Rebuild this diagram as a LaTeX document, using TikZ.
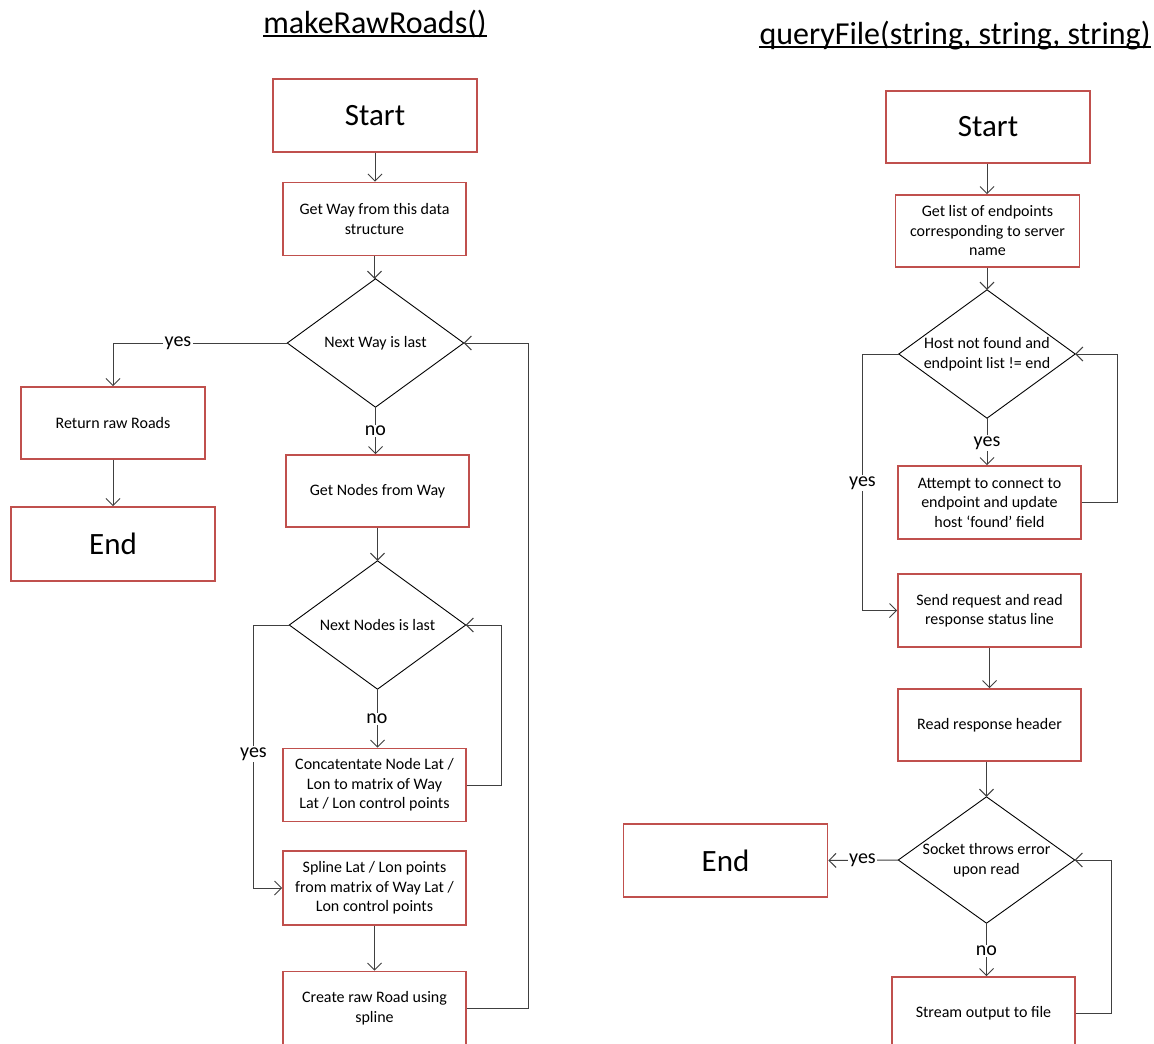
\documentclass[tikz,border=0pt]{standalone}
\usepackage{fontspec}
\setmainfont{Carlito}
\usetikzlibrary{arrows.meta}
\definecolor{boxred}{RGB}{192,80,77}
\definecolor{wire}{RGB}{64,64,64}
\begin{document}
\begin{tikzpicture}[x=1pt,y=-1pt,
  every node/.style={inner sep=0pt},
  stepbox/.style={draw=boxred, line width=1.6pt, fill=white, align=center,
    font=\fontsize{16}{19.5}\selectfont, minimum width=183pt, minimum height=73pt},
  termbox/.style={stepbox, minimum width=204pt, font=\fontsize{31}{36}\selectfont},
  decision/.style={minimum width=176pt, minimum height=128pt, align=center,
    font=\fontsize{16}{19.5}\selectfont},
  diamondline/.style={draw=black, line width=0.9pt},
  flow/.style={draw=wire, line width=1pt, -{Straight Barb[length=7pt,width=14pt]}},
  plain/.style={draw=wire, line width=1pt},
  answer/.style={fill=white, inner sep=1.5pt, font=\fontsize{20}{24}\selectfont},
  heading/.style={font=\fontsize{32}{38}\selectfont, anchor=base}
]
\clip (0,0) rectangle (1154,1044);
\fill[white] (0,0) rectangle (1154,1044);

% ---------- makeRawRoads() ----------
\node[heading] (t1) at (375,33) {makeRawRoads()};
\draw[line width=1.4pt] ([yshift=-3pt]t1.base west) -- ([yshift=-3pt]t1.base east);

\node[termbox] (s1) at (375,115.5) {Start};
\node[stepbox] (w1) at (374.5,219) {Get Way from this data\\structure};
\node[decision] (d1) at (375.5,343) {Next Way is last};
\node[stepbox, minimum width=184pt, minimum height=72pt] (r1) at (113,423) {Return raw Roads};
\node[termbox, minimum height=74pt] (e1) at (113,544) {End};
\node[stepbox, minimum height=72pt] (n1) at (377.5,491) {Get Nodes from Way};
\node[decision] (d2) at (377.5,625) {Next Nodes is last};
\node[stepbox] (c1) at (374.5,785) {Concatentate Node Lat /\\Lon to matrix of Way\\Lat / Lon control points};
\node[stepbox, minimum height=74pt] (sp) at (374.5,888) {Spline Lat / Lon points\\from matrix of Way Lat /\\Lon control points};
\node[stepbox] (cr) at (374.5,1008) {Create raw Road using\\spline};

\draw[diamondline] (d1.north) -- (d1.east) -- (d1.south) -- (d1.west) -- cycle;
\draw[diamondline] (d2.north) -- (d2.east) -- (d2.south) -- (d2.west) -- cycle;

\draw[flow] (s1.south) -- (s1.south |- w1.north);
\draw[flow] (w1.south) -- (w1.south |- d1.north);
\draw[flow] (d1.west) -| (r1.north);
\node[answer] (y1) at (178,343) {yes};
\draw[flow] (r1.south) -- (e1.north);
\draw[flow] (d1.south) -- (d1.south |- n1.north);
\node[answer] (no1) at (375.5,431) {no};
\draw[flow] (n1.south -| d2.north) -- (d2.north);
\draw[flow] (d2.south) -- (d2.south |- c1.north);
\node[answer] (no2) at (377,719) {no};
\draw[flow] (c1.east) -- ++(35,0) |- (d2.east);
\draw[flow] (d2.west) -- ++(-36,0) |- (sp.west);
\node[answer] (y2) at (253.5,754) {yes};
\draw[flow] (sp.south) -- (cr.north);
\draw[flow] (cr.east) -- ++(62,0) |- (d1.east);

% ---------- queryFile(string, string, string) ----------
\node[heading] (t2) at (955,44) {queryFile(string, string, string)};
\draw[line width=1.4pt] ([yshift=-3pt]t2.base west) -- ([yshift=-3pt]t2.base east);

\node[termbox, minimum height=72pt] (s2) at (988,127) {Start};
\node[stepbox, minimum width=184pt, minimum height=72pt] (g2) at (987.5,231) {Get list of endpoints\\corresponding to server\\name};
\node[decision] (h2) at (987,354) {Host not found and\\endpoint list != end};
\node[stepbox] (a2) at (989.5,502.5) {Attempt to connect to\\endpoint and update\\host ‘found’ field};
\node[stepbox] (q2) at (989.5,610.5) {Send request and read\\response status line};
\node[stepbox, minimum height=72pt] (rh) at (989.5,725) {Read response header};
\node[decision, minimum height=126pt] (k2) at (986.5,860) {Socket throws error\\upon read};
\node[termbox] (e2) at (725.5,860.5) {End};
\node[stepbox] (o2) at (983.5,1013.5) {Stream output to file};

\draw[diamondline] (h2.north) -- (h2.east) -- (h2.south) -- (h2.west) -- cycle;
\draw[diamondline] (k2.north) -- (k2.east) -- (k2.south) -- (k2.west) -- cycle;

\draw[flow] (s2.south -| h2.north) -- (g2.north -| h2.north);
\draw[flow] (g2.south -| h2.north) -- (h2.north);
\draw[flow] (h2.south) -- (h2.south |- a2.north);
\node[answer] (y3) at (987,443) {yes};
\draw[flow] (a2.east) -- ++(36,0) |- (h2.east);
\draw[flow] (h2.west) -- ++(-36.5,0) |- (q2.west);
\node[answer] (y4) at (862.5,483) {yes};
\draw[flow] (q2.south) -- (rh.north);
\draw[flow] (rh.south -| k2.north) -- (k2.north);
\draw[flow] (k2.west) -- (e2.east);
\node[answer] (y5) at (862.5,860) {yes};
\draw[flow] (k2.south) -- (k2.south |- o2.north);
\node[answer] (no3) at (986.5,951) {no};
\draw[flow] (o2.east) -- ++(36,0) |- (k2.east);
\end{tikzpicture}
\end{document}
